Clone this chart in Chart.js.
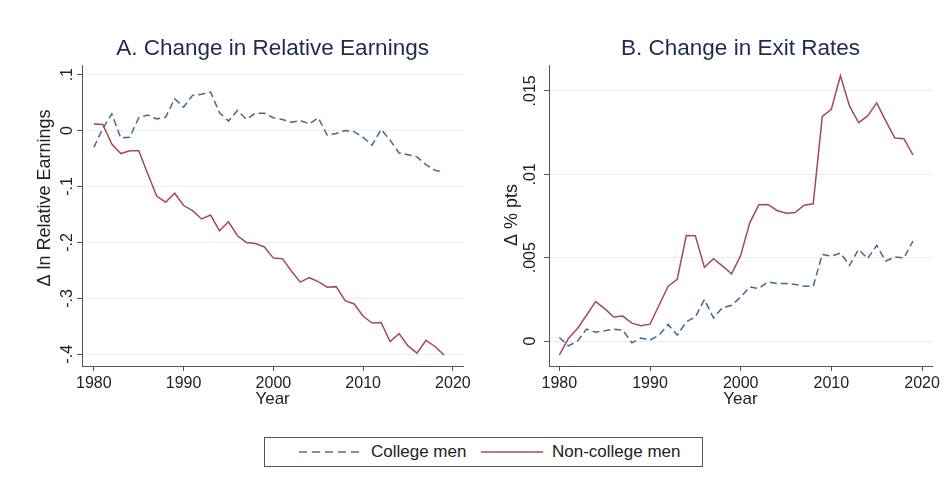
<!DOCTYPE html>
<html>
<head>
<meta charset="utf-8">
<script src="https://cdn.jsdelivr.net/npm/chart.js@4.4.1/dist/chart.umd.min.js"></script>
<style>
  body { margin: 0; background: #fff; width: 948px; height: 480px; position: relative; overflow: hidden; font-family: "Liberation Sans", Arial, sans-serif; }
  .painel { position: absolute; top: 0; width: 474px; height: 420px; }
  #legenda { position: absolute; left: 264px; top: 437px; width: 437px; height: 28px; border: 1px solid #555; color: #222; font-size: 17px; }
  #legenda svg, #legenda span { position: absolute; }
</style>
</head>
<body>
<div class="painel" style="left:0"><canvas id="graficoGanhos" width="474" height="420"></canvas></div>
<div class="painel" style="left:474px"><canvas id="graficoSaida" width="474" height="420"></canvas></div>
<div id="legenda">
  <svg style="left:34px;top:12px" width="62" height="4"><line x1="0" y1="2" x2="62" y2="2" stroke="#4a7098" stroke-width="1.5" stroke-dasharray="8 5"/></svg>
  <span style="left:106px;top:4px">College men</span>
  <svg style="left:216px;top:12px" width="62" height="4"><line x1="0" y1="2" x2="62" y2="2" stroke="#a84a52" stroke-width="1.5"/></svg>
  <span style="left:287px;top:4px">Non-college men</span>
</div>
<script>
const fonte = '"Liberation Sans", Arial, sans-serif';
const corCollege = "#42698f";
const corNonCollege = "#a84a52";

const anos = [1980, 1981, 1982, 1983, 1984, 1985, 1986, 1987, 1988, 1989,
  1990, 1991, 1992, 1993, 1994, 1995, 1996, 1997, 1998, 1999,
  2000, 2001, 2002, 2003, 2004, 2005, 2006, 2007, 2008, 2009,
  2010, 2011, 2012, 2013, 2014, 2015, 2016, 2017, 2018, 2019];

// painel A: variação no log dos ganhos relativos
const ganhosCollege = [-0.030, 0.004, 0.030, -0.013, -0.012, 0.023, 0.028, 0.021, 0.024, 0.057,
  0.042, 0.063, 0.065, 0.069, 0.032, 0.017, 0.036, 0.020, 0.031, 0.031,
  0.023, 0.020, 0.015, 0.018, 0.012, 0.023, -0.008, -0.005, 0.000, -0.002,
  -0.012, -0.026, 0.002, -0.017, -0.040, -0.043, -0.047, -0.061, -0.071, -0.074];
const ganhosNonCollege = [0.012, 0.011, -0.024, -0.041, -0.036, -0.036, -0.077, -0.117, -0.128, -0.112,
  -0.134, -0.143, -0.158, -0.151, -0.179, -0.163, -0.188, -0.200, -0.202, -0.208,
  -0.228, -0.229, -0.251, -0.271, -0.263, -0.270, -0.280, -0.279, -0.304, -0.310,
  -0.332, -0.344, -0.343, -0.377, -0.363, -0.385, -0.398, -0.375, -0.386, -0.401];

// painel B: variação nas taxas de saída
const saidaCollege = [0.00022, -0.00028, 0.0000, 0.00072, 0.00054, 0.00062, 0.00072, 0.00066, -0.0001, 0.00018,
  0.00006, 0.00036, 0.0010, 0.00036, 0.00116, 0.00145, 0.00249, 0.00139, 0.00201, 0.00215,
  0.00265, 0.00325, 0.00315, 0.00355, 0.00345, 0.00345, 0.0034, 0.00329, 0.00329, 0.0052,
  0.0051, 0.00528, 0.00454, 0.0055, 0.00494, 0.00574, 0.0048, 0.00504, 0.00498, 0.0060];
const saidaNonCollege = [-0.00084, 0.00016, 0.00076, 0.00155, 0.00237, 0.00195, 0.00145, 0.0015, 0.00108, 0.00092,
  0.00102, 0.00215, 0.00329, 0.0037, 0.00633, 0.00632, 0.00442, 0.00494, 0.0045, 0.00404,
  0.00514, 0.00709, 0.00817, 0.00819, 0.00783, 0.00767, 0.00771, 0.00815, 0.00823, 0.01347,
  0.0139, 0.0159, 0.0141, 0.0131, 0.0135, 0.01428, 0.0132, 0.01217, 0.01213, 0.01116];

const ticksAnos = [1980, 1990, 2000, 2010, 2020];
const ticksGanhos = [-0.4, -0.3, -0.2, -0.1, 0, 0.1];
const rotulosGanhos = ["-.4", "-.3", "-.2", "-.1", "0", ".1"];
const ticksSaida = [0, 0.005, 0.01, 0.015];
const rotulosSaida = ["0", ".005", ".01", ".015"];

// rótulos do eixo y girados, como no Stata
const eixoYGirado = {
  id: "eixoYGirado",
  afterDraw(chart, args, opts) {
    const ctx = chart.ctx;
    const escala = chart.scales.y;
    const eixo = chart.chartArea.left;
    ctx.save();
    ctx.fillStyle = "#222";
    ctx.font = "16px " + fonte;
    ctx.textAlign = "center";
    ctx.textBaseline = "alphabetic";
    opts.valores.forEach((v, i) => {
      ctx.save();
      ctx.translate(eixo - opts.recuo, escala.getPixelForValue(v));
      ctx.rotate(-Math.PI / 2);
      ctx.fillText(opts.rotulos[i], 0, 0);
      ctx.restore();
    });
    ctx.font = "18px " + fonte;
    ctx.textBaseline = "middle";
    ctx.translate(opts.tituloX, opts.tituloY);
    ctx.rotate(-Math.PI / 2);
    ctx.fillText(opts.titulo, 0, 0);
    ctx.restore();
  },
};

function pontos(valores) {
  return anos.map((a, i) => ({ x: a, y: valores[i] }));
}

function montaGrafico(id, cfg) {
  return new Chart(document.getElementById(id), {
    type: "line",
    data: {
      datasets: [
        {
          label: "College men",
          data: pontos(cfg.college),
          borderColor: corCollege,
          borderWidth: 1.5,
          borderDash: [7, 4],
          pointRadius: 0,
          fill: false,
        },
        {
          label: "Non-college men",
          data: pontos(cfg.nonCollege),
          borderColor: corNonCollege,
          borderWidth: 1.5,
          pointRadius: 0,
          fill: false,
        },
      ],
    },
    options: {
      responsive: false,
      animation: false,
      layout: { padding: { left: 0, right: cfg.direita, top: 0, bottom: 0 } },
      plugins: {
        legend: { display: false },
        tooltip: { enabled: false },
        title: {
          display: true,
          fullSize: false,
          text: cfg.titulo,
          color: "#1c2b4f",
          font: { size: 22.5, weight: "normal", family: fonte },
          padding: { top: 35, bottom: 3 },
        },
        eixoYGirado: {
          valores: cfg.ticksY,
          rotulos: cfg.rotulosY,
          recuo: cfg.recuo,
          titulo: cfg.tituloY,
          tituloX: cfg.tituloX,
          tituloY: cfg.tituloYPos,
        },
      },
      scales: {
        x: {
          type: "linear",
          min: cfg.xMin,
          max: cfg.xMax,
          afterBuildTicks: (s) => { s.ticks = ticksAnos.map((v) => ({ value: v })); },
          afterFit: (s) => { s.height = 54; },
          ticks: { color: "#222", font: { size: 16, family: fonte }, padding: 3, maxRotation: 0, callback: (v) => String(v) },
          grid: { drawOnChartArea: false, tickLength: 5, tickColor: "#555" },
          border: { color: "#555" },
          title: { display: true, text: "Year", color: "#222", font: { size: 17, family: fonte }, padding: { top: 0, bottom: 10 } },
        },
        y: {
          min: cfg.yMin,
          max: cfg.yMax,
          afterBuildTicks: (s) => { s.ticks = cfg.ticksY.map((v) => ({ value: v })); },
          afterFit: (s) => { s.width = cfg.largura; },
          ticks: { display: false },
          grid: { color: "#e7eff0", tickColor: "#555", tickLength: 5 },
          border: { color: "#555" },
        },
      },
    },
    plugins: [eixoYGirado],
  });
}

montaGrafico("graficoGanhos", {
  titulo: "A. Change in Relative Earnings",
  college: ganhosCollege,
  nonCollege: ganhosNonCollege,
  ticksY: ticksGanhos,
  rotulosY: rotulosGanhos,
  tituloY: "\u0394 ln Relative Earnings",
  tituloX: 45,
  tituloYPos: 198,
  recuo: 10,
  largura: 82,
  direita: 7,
  xMin: 1978.68,
  xMax: 2021.14,
  yMin: -0.4209,
  yMax: 0.1173,
});

montaGrafico("graficoSaida", {
  titulo: "B. Change in Exit Rates",
  college: saidaCollege,
  nonCollege: saidaNonCollege,
  ticksY: ticksSaida,
  rotulosY: rotulosSaida,
  tituloY: "\u0394 % pts",
  tituloX: 38,
  tituloYPos: 215,
  recuo: 14,
  largura: 75,
  direita: 16,
  xMin: 1978.86,
  xMax: 2021.1,
  yMin: -0.00149,
  yMax: 0.01655,
});
</script>
</body>
</html>
